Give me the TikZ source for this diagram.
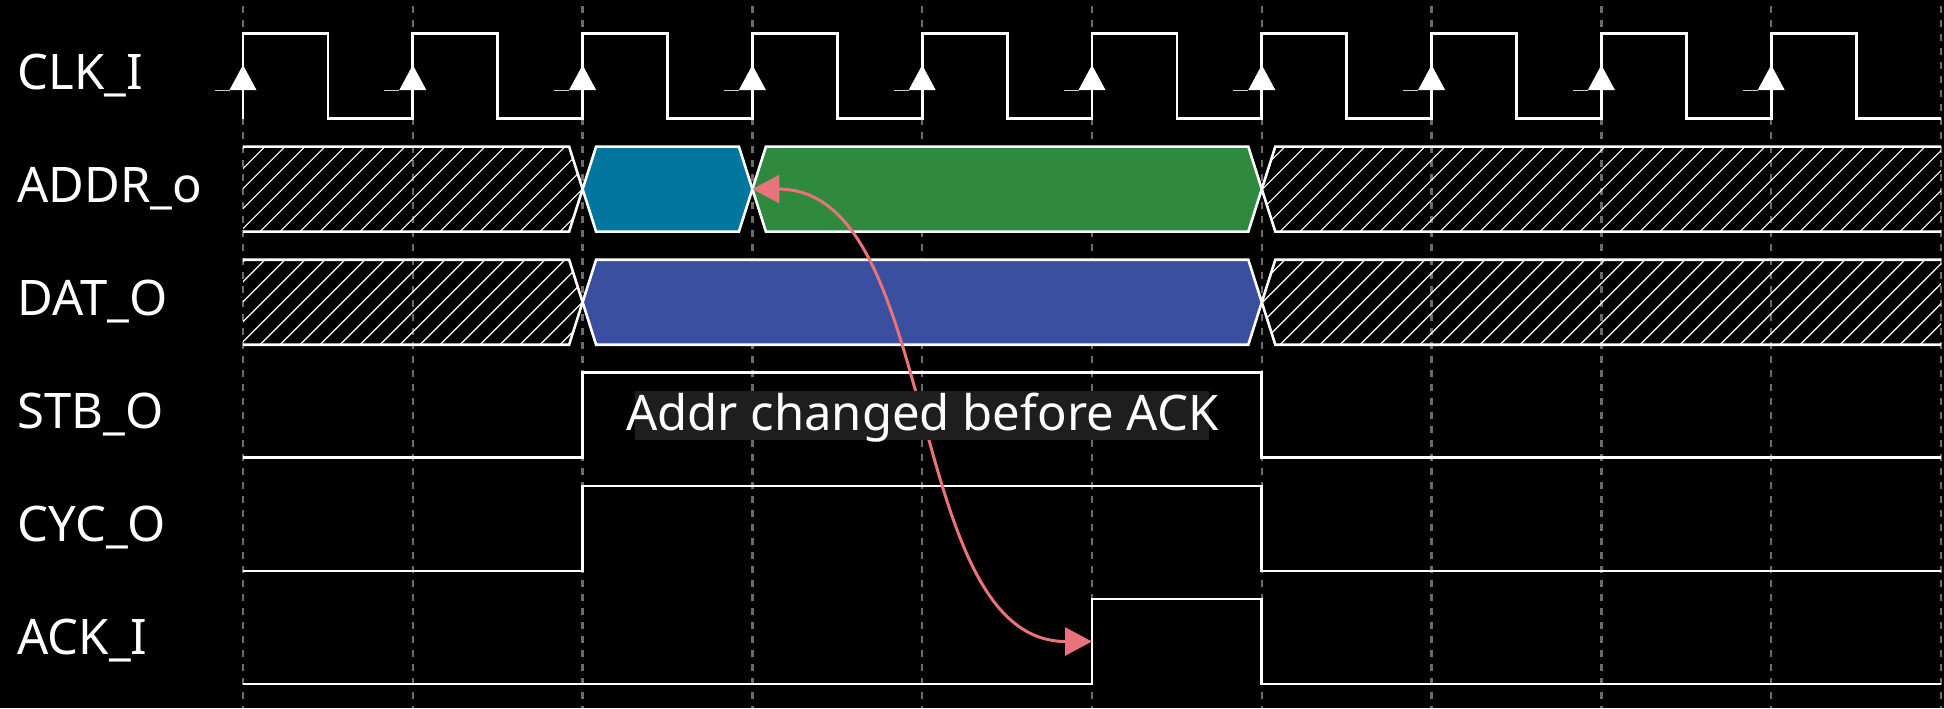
\documentclass[tikz,border=0pt]{standalone}
\usepackage{fontspec}
\setmainfont{Noto Sans}
\usetikzlibrary{arrows.meta, positioning}
\definecolor{wavebg}{HTML}{000000}
\definecolor{wavegrid}{HTML}{6B6B6B}
\definecolor{waveblue}{HTML}{0376A0}
\definecolor{wavegreen}{HTML}{2F8A3F}
\definecolor{waveindigo}{HTML}{3B4FA0}
\definecolor{wavenote}{HTML}{E8737A}
\definecolor{wavebox}{HTML}{1E1E1E}
\tikzset{
  >={Triangle[length=13.5pt, width=14pt]},
  gridline/.style={wavegrid, line width=1.2pt, dash pattern=on 3.5pt off 3.5pt},
  sig/.style={white, line width=1.4pt},
  bus/.style={draw=white, line width=1.3pt},
  hatch/.style={white, line width=0.6pt},
  lbl/.style={text=white, font=\fontsize{24.5}{28}\selectfont, inner sep=0pt},
  notebox/.style={lbl, fill=wavebox, inner xsep=-4.5pt, inner ysep=0pt, text height=19.5pt, text depth=5pt},
  noteline/.style={<->, wavenote, line width=1.5pt},
}

\begin{document}
\begin{tikzpicture}[x=0.5pt, y=-0.5pt]
  \fill[wavebg] (0,0) rectangle (1944,708);
  \useasboundingbox (0,0) rectangle (1944,708);
  % clock edge markers
  \foreach \k in {0,...,10}
    \draw[gridline] ({243+169.8*\k},6) -- ({243+169.8*\k},708);
  % undefined bus values
  \foreach \t/\m/\b in {146.6/189.1/231.6, 259.7/302.2/344.7}{
    \begin{scope}
      \clip (243,\t) -- (569.1,\t) -- (582.6,\m) -- (569.1,\b) -- (243,\b) -- cycle;
      \foreach \h in {160,180,...,600} \draw[hatch] (\h,\b) -- (\h+85,\t);
    \end{scope}
    \draw[bus] (243,\t) -- (569.1,\t) -- (582.6,\m) -- (569.1,\b) -- (243,\b);
    \begin{scope}
      \clip (1261.8,\m) -- (1275.3,\t) -- (1941,\t) -- (1941,\b) -- (1275.3,\b) -- cycle;
      \foreach \h in {1180,1200,...,1960} \draw[hatch] (\h,\b) -- (\h+85,\t);
    \end{scope}
    \draw[bus] (1941,\t) -- (1275.3,\t) -- (1261.8,\m) -- (1275.3,\b) -- (1941,\b);
  }
  % bus values
  \path[bus, fill=waveblue] (582.6,189.1) -- (596.1,146.6) -- (738.9,146.6) -- (752.4,189.1) -- (738.9,231.6) -- (596.1,231.6) -- cycle;
  \path[bus, fill=wavegreen] (752.4,189.1) -- (765.9,146.6) -- (1248.3,146.6) -- (1261.8,189.1) -- (1248.3,231.6) -- (765.9,231.6) -- cycle;
  \path[bus, fill=waveindigo] (582.6,302.2) -- (596.1,259.7) -- (1248.3,259.7) -- (1261.8,302.2) -- (1248.3,344.7) -- (596.1,344.7) -- cycle;
  % clock
  \draw[sig] (243,118.5) \foreach \k in {0,...,9} { -- ({243+169.8*\k},33.5) -- ({327.9+169.8*\k},33.5) -- ({327.9+169.8*\k},118.5) -- ({412.8+169.8*\k},118.5) };
  \foreach \k in {0,...,9}{
    \fill[white] ({229.5+169.8*\k},90) -- ({243+169.8*\k},65) -- ({256.5+169.8*\k},90) -- cycle;
    \draw[white!80!black, line width=0.5pt] ({214.5+169.8*\k},90) -- ({229.5+169.8*\k},90);
  }
  % control signals
  \draw[sig] (243,457.8) -- (582.6,457.8) -- (582.6,372.8) -- (1261.8,372.8) -- (1261.8,457.8) -- (1941,457.8);
  \draw[sig] (243,570.9) -- (582.6,570.9) -- (582.6,485.9) -- (1261.8,485.9) -- (1261.8,570.9) -- (1941,570.9);
  \draw[sig] (243,684) -- (1092,684) -- (1092,599) -- (1261.8,599) -- (1261.8,684) -- (1941,684);
  % signal names
  \foreach \y/\n/\s in {89/clk/CLK\_I, 202.1/addr/ADDR\_o, 315.2/dat/DAT\_O, 428.3/stb/STB\_O, 541.4/cyc/CYC\_O, 654.5/ack/ACK\_I}
    \node[lbl, anchor=base west] (l\n) at (17,\y) {\s};
  % annotation
  \coordinate (addrx) at (752.4,189.1);
  \coordinate (ackup) at (1092,641.5);
  \draw[noteline] (addrx) .. controls +(190,0) and +(-190,0) .. (ackup);
  \node[notebox, anchor=base] (note) at (922.2,430) {Addr changed before ACK};
\end{tikzpicture}
\end{document}
